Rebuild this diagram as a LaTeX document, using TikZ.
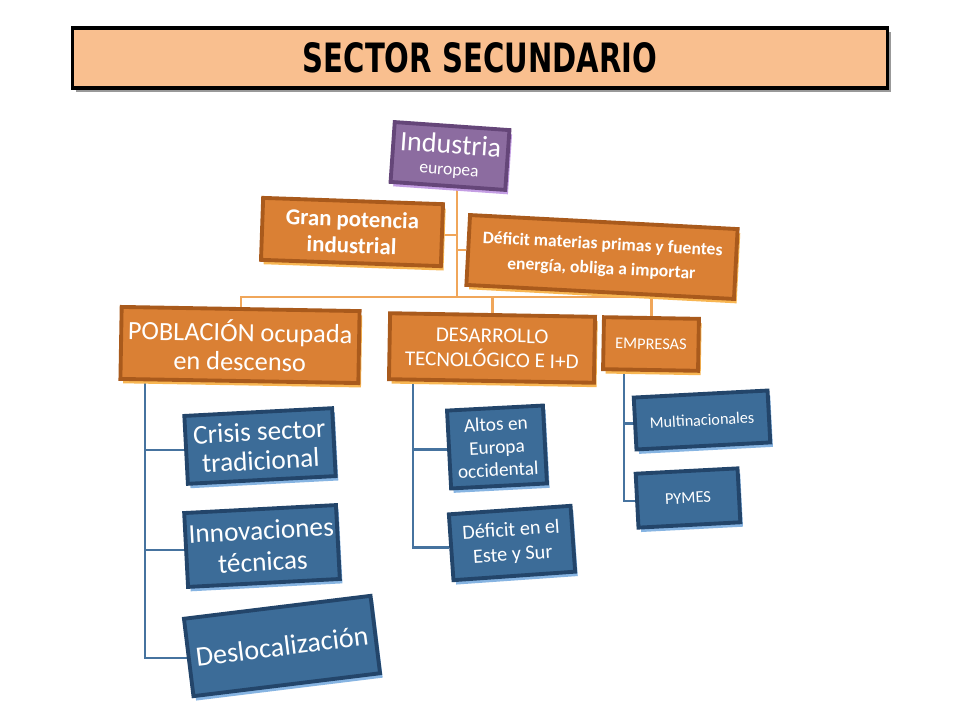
\documentclass[tikz,border=0pt]{standalone}
\usepackage{fontspec}
\usepackage{graphicx}
\setmainfont{Carlito}
\newfontfamily\titlefont{DejaVu Sans}
\usetikzlibrary{calc,shadows,backgrounds}

\definecolor{peach}{HTML}{F9BF8F}
\definecolor{ofill}{HTML}{DA8034}
\definecolor{odraw}{HTML}{A95A1C}
\definecolor{oglow}{HTML}{F8B652}
\definecolor{bfill}{HTML}{3C6C98}
\definecolor{bdraw}{HTML}{23456A}
\definecolor{bglow}{HTML}{86B4E2}
\definecolor{pfill}{HTML}{8C6CA0}
\definecolor{pdraw}{HTML}{654679}
\definecolor{pglow}{HTML}{C49EE4}
\definecolor{oconn}{HTML}{F0A65A}
\definecolor{bconn}{HTML}{46739F}

\tikzstyle{box} = [line width=2.2pt,text=white,align=center,inner sep=1pt]
\tikzstyle{titlebox} = [draw=black,line width=2pt,fill=peach,minimum width=16.3cm,minimum height=1.2cm,drop shadow={shadow xshift=2pt,shadow yshift=-2pt,fill=black!40,opacity=1}]
\tikzstyle{purplebox} = [box,draw=pdraw,fill=pfill,drop shadow={shadow xshift=1.5pt,shadow yshift=-2.5pt,fill=pglow,opacity=1}]
\tikzstyle{orangebox} = [box,draw=odraw,fill=ofill,drop shadow={shadow xshift=1.5pt,shadow yshift=-2.5pt,fill=oglow,opacity=1}]
\tikzstyle{bluebox} = [box,draw=bdraw,fill=bfill,drop shadow={shadow xshift=1.5pt,shadow yshift=-2.5pt,fill=bglow,opacity=1}]
\tikzstyle{oline} = [draw=oconn,line width=1.3pt]
\tikzstyle{bline} = [draw=bconn,line width=1.3pt]

\begin{document}
\begin{tikzpicture}[x=0.02cm,y=-0.02cm]
    \useasboundingbox (0,0) rectangle (960,720);

    \coordinate (T) at (480,58);
    \coordinate (ind) at (450,156);
    \coordinate (gran) at (352,232);
    \coordinate (def) at (602,257);
    \coordinate (pob) at (240,345);
    \coordinate (des) at (492,348);
    \coordinate (emp) at (651,344);
    \coordinate (crisis) at (260,446);
    \coordinate (innov) at (262,546);
    \coordinate (desloc) at (282,646);
    \coordinate (altos) at (497,447);
    \coordinate (defes) at (512,543);
    \coordinate (multi) at (702,420);
    \coordinate (pymes) at (688,498);
    \coordinate (hub) at (457,297);

    \node [style=titlebox] (T) at (T) {\titlefont\bfseries\fontsize{23}{25}\selectfont\scalebox{0.72}[1]{SECTOR SECUNDARIO}};

    \node [style=purplebox,rotate=-4,minimum width=2.3cm,minimum height=1.2cm] (ind) at (ind)
        {{\fontsize{16}{18}\selectfont Industria}\\{\fontsize{10}{12}\selectfont europea}};

    \node [style=orangebox,rotate=-2,minimum width=3.6cm,minimum height=1.24cm,font=\bfseries\fontsize{13}{15}\selectfont] (gran) at (gran)
        {Gran potencia\\industrial};
    \node [style=orangebox,rotate=-3,minimum width=5.36cm,minimum height=1.4cm,font=\bfseries\fontsize{10}{14}\selectfont] (def) at (def)
        {Déficit materias primas y fuentes\\energía, obliga a importar};
    \node [style=orangebox,rotate=-1,minimum width=4.76cm,minimum height=1.44cm,font=\fontsize{15}{16.5}\selectfont] (pob) at (pob)
        {POBLACIÓN ocupada\\en descenso};
    \node [style=orangebox,rotate=-1,minimum width=4.1cm,minimum height=1.32cm,font=\fontsize{12}{14}\selectfont] (des) at (des)
        {DESARROLLO\\TECNOLÓGICO E I+D};
    \node [style=orangebox,rotate=-1,minimum width=1.9cm,minimum height=1.04cm,font=\fontsize{9.3}{10}\selectfont] (emp) at (emp)
        {EMPRESAS};

    \node [style=bluebox,rotate=3,minimum width=2.96cm,minimum height=1.36cm,font=\fontsize{15.5}{16.5}\selectfont] (crisis) at (crisis)
        {Crisis sector\\tradicional};
    \node [style=bluebox,rotate=3,minimum width=3.04cm,minimum height=1.48cm,font=\fontsize{15.5}{18}\selectfont] (innov) at (innov)
        {Innovaciones\\técnicas};
    \node [style=bluebox,rotate=7,minimum width=3.76cm,minimum height=1.56cm,font=\fontsize{16}{17}\selectfont] (desloc) at (desloc)
        {Deslocalización};
    \node [style=bluebox,rotate=3,minimum width=1.92cm,minimum height=1.56cm,font=\fontsize{11}{13}\selectfont] (altos) at (altos)
        {Altos en\\Europa\\occidental};
    \node [style=bluebox,rotate=4,minimum width=2.44cm,minimum height=1.32cm,font=\fontsize{11.5}{14}\selectfont] (defes) at (defes)
        {Déficit en el\\Este y Sur};
    \node [style=bluebox,rotate=3,minimum width=2.68cm,minimum height=1.04cm,font=\fontsize{9.2}{10}\selectfont] (multi) at (multi)
        {Multinacionales};
    \node [style=bluebox,rotate=3,minimum width=2.04cm,minimum height=1.08cm,font=\fontsize{9.4}{10}\selectfont] (pymes) at (pymes)
        {PYMES};

    \begin{scope}[on background layer]
        \fill [white] (0,0) rectangle (960,720);
        % upper tree
        \draw [style=oline] (ind.south -| hub) -- (hub);
        \draw [style=oline] (gran.east) -- (gran.east -| hub);
        \draw [style=oline] (def.west) -- (def.west -| hub);
        \draw [style=oline] (pob.north) |- (hub) -| (emp.north);
        \draw [style=oline] (des.north) -- (des.north |- hub);
        % lower branches
        \coordinate (pb) at ($(pob.south west)!0.11!(pob.south east)$);
        \coordinate (db) at ($(des.south west)!0.125!(des.south east)$);
        \coordinate (eb) at ($(emp.south west)!0.23!(emp.south east)$);
        \draw [style=bline] (pb) |- (crisis.west);
        \draw [style=bline] (pb) |- (innov.west);
        \draw [style=bline] (pb) |- (desloc.west);
        \draw [style=bline] (db) |- (altos.west);
        \draw [style=bline] (db) |- (defes.west);
        \draw [style=bline] (eb) |- (multi.west);
        \draw [style=bline] (eb) |- (pymes.west);
    \end{scope}
\end{tikzpicture}
\end{document}
